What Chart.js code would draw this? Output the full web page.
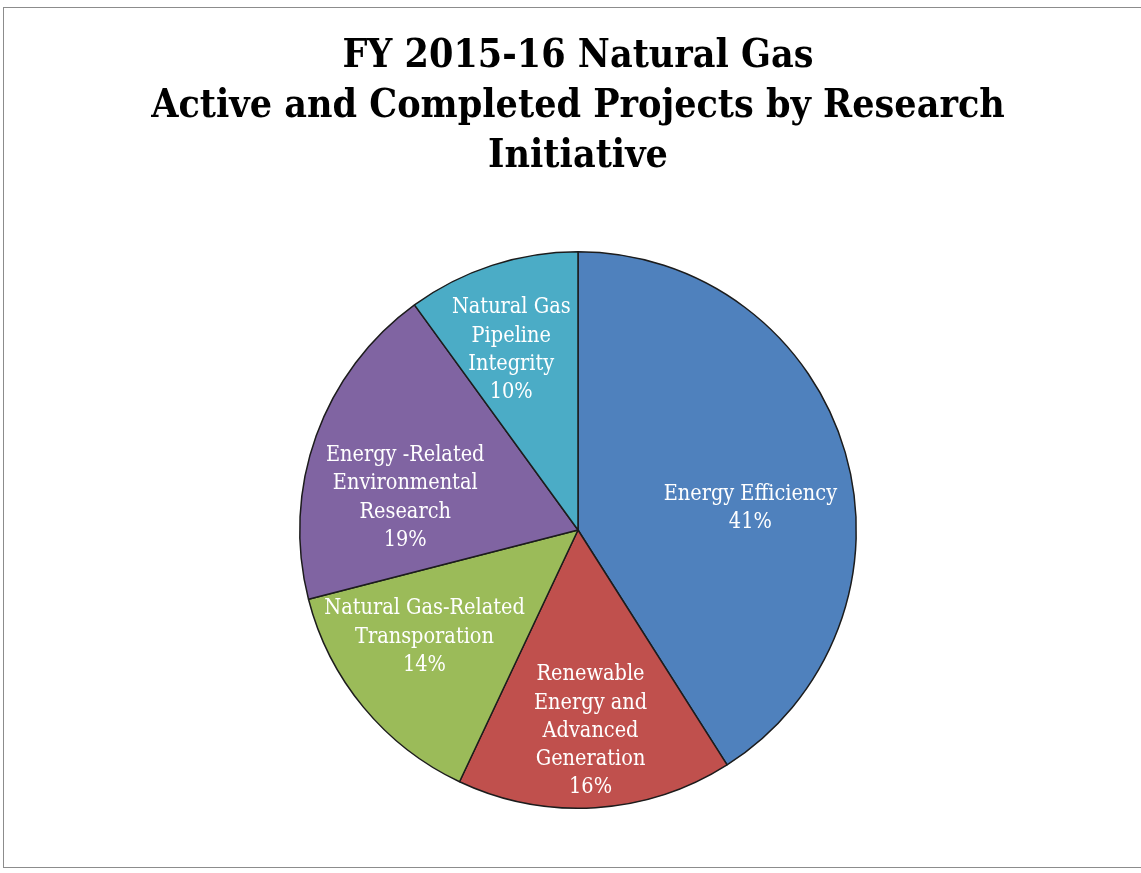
<!DOCTYPE html>
<html>
<head>
<meta charset="utf-8">
<script src="https://cdn.jsdelivr.net/npm/chart.js@4"></script>
<style>
  html, body { margin: 0; padding: 0; background: #fff; }
  #wrap { position: relative; width: 1141px; height: 873px; }
  #frame { position: absolute; left: 3px; top: 7px; width: 1140px; height: 861px;
           border: 1px solid #8c8c8c; border-right: none; box-sizing: border-box; pointer-events: none; }
</style>
</head>
<body>
<div id="wrap">
  <canvas id="myChart" width="1141" height="873"></canvas>
  <div id="frame"></div>
</div>
<script>
const titleLines = ['FY 2015-16 Natural Gas', 'Active and Completed Projects by Research', 'Initiative'];
const categories = [
  ['Energy Efficiency'],
  ['Renewable', 'Energy and', 'Advanced', 'Generation'],
  ['Natural Gas-Related', 'Transporation'],
  ['Energy -Related', 'Environmental', 'Research'],
  ['Natural Gas', 'Pipeline', 'Integrity']
];
const shares = [41, 16, 14, 19, 10];
const colors = ['#4F81BD', '#C0504D', '#9BBB59', '#8064A2', '#4BACC6'];

const serif = "'DejaVu Serif Condensed', 'DejaVu Serif', serif";
// small nudges so labels sit where the original placed them
const labelNudge = [[-4, 30], [1, 18], [-12, -10], [0, 30], [-10, -5]];

const sliceLabels = {
  id: 'sliceLabels',
  afterDatasetsDraw(chart) {
    const ctx = chart.ctx;
    const meta = chart.getDatasetMeta(0);
    ctx.save();
    ctx.fillStyle = '#ffffff';
    ctx.font = '21.5px ' + serif;
    ctx.textAlign = 'center';
    ctx.textBaseline = 'middle';
    meta.data.forEach((arc, i) => {
      const mid = (arc.startAngle + arc.endAngle) / 2;
      const r = arc.outerRadius * 0.66;
      const x = arc.x + Math.cos(mid) * r + labelNudge[i][0];
      const y = arc.y + Math.sin(mid) * r + labelNudge[i][1];
      const lines = categories[i].concat([shares[i] + '%']);
      const lh = 28.3;
      const y0 = y - (lines.length - 1) * lh / 2;
      lines.forEach((t, j) => ctx.fillText(t, x, y0 + j * lh));
    });
    ctx.restore();
  }
};

const ctx = document.getElementById('myChart');
new Chart(ctx, {
  type: 'pie',
  data: {
    labels: categories.map(c => c.join(' ')),
    datasets: [{
      data: shares,
      backgroundColor: colors,
      borderColor: '#1c1c1c',
      borderWidth: 1.5
    }]
  },
  options: {
    responsive: false,
    animation: false,
    layout: { padding: { left: 15, right: 0, top: 0, bottom: 64 } },
    plugins: {
      legend: { display: false },
      tooltip: { enabled: false },
      title: {
        display: true,
        text: titleLines,
        color: '#000',
        font: { family: serif, size: 39, weight: 'bold', lineHeight: 1.282 },
        padding: { top: 32, bottom: 69 }
      }
    }
  },
  plugins: [sliceLabels]
});
</script>
</body>
</html>
